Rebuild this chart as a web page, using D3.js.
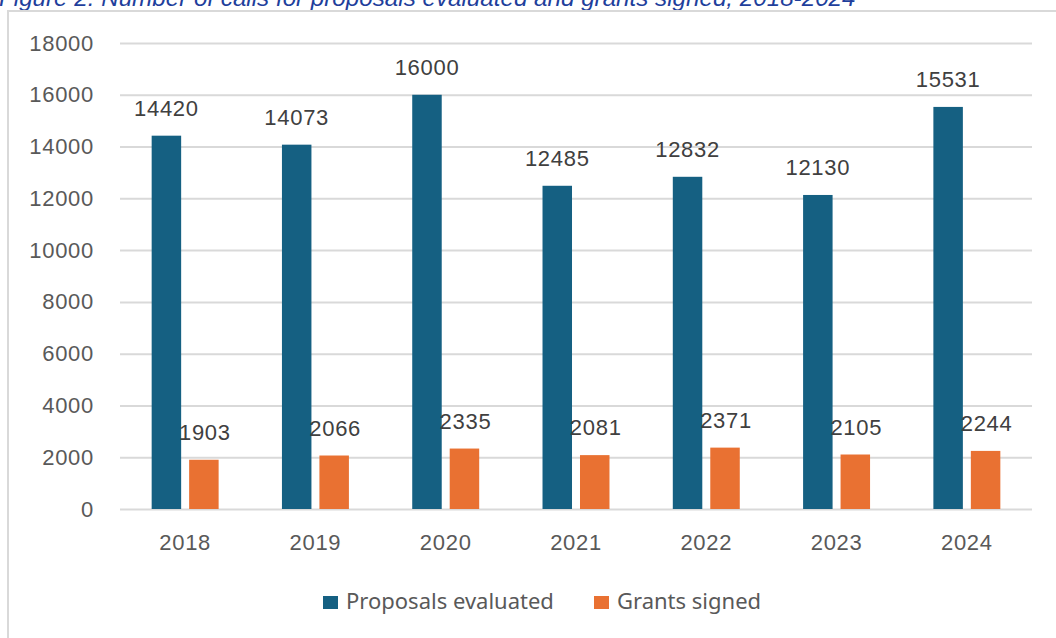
<!DOCTYPE html>
<html>
<head>
<meta charset="utf-8">
<script src="https://cdn.jsdelivr.net/npm/d3@7"></script>
<style>
  html, body { margin: 0; padding: 0; background: #fff; overflow: hidden; }
  svg { display: block; }
</style>
</head>
<body>
<svg id="chart"></svg>
<script>
// data
const years = ["2018", "2019", "2020", "2021", "2022", "2023", "2024"];
const seriesNames = ["Proposals evaluated", "Grants signed"];
const proposals = [14420, 14073, 16000, 12485, 12832, 12130, 15531];
const grants = [1903, 2066, 2335, 2081, 2371, 2105, 2244];
const yTicks = [0, 2000, 4000, 6000, 8000, 10000, 12000, 14000, 16000, 18000];
const colors = ["#156082", "#E97132"];
const title = "Figure 2: Number of calls for proposals evaluated and grants signed, 2018-2024";

const W = 1056, H = 638;
const margin = {top: 43, right: 24, bottom: 129, left: 120};
const width = W - margin.left - margin.right;
const height = H - margin.top - margin.bottom;

const svg = d3.select("#chart").attr("width", W).attr("height", H);

// caption (cut off at the top like the source)
svg.append("text")
  .attr("x", -1).attr("y", 6)
  .attr("font-family", "Liberation Sans, Arial, sans-serif")
  .attr("font-style", "italic")
  .attr("font-size", "24.2px")
  .attr("fill", "#1f3f9c")
  .text(title);

// chart frame
svg.append("rect")
  .attr("x", 8).attr("y", 11)
  .attr("width", W + 10).attr("height", H + 10)
  .attr("fill", "none")
  .attr("stroke", "#d9d9d9")
  .attr("stroke-width", 2);

const g = svg.append("g").attr("transform", `translate(${margin.left},${margin.top})`);

const y = d3.scaleLinear().domain([0, 18000]).range([height, 0]);
const x0 = d3.scaleBand().domain(years).range([0, width])
  .paddingInner(0.486).paddingOuter(0.243);
const x1 = d3.scaleBand().domain(seriesNames).range([0, x0.bandwidth()]).paddingInner(0.213);

// gridlines
g.append("g")
  .call(d3.axisLeft(y).tickValues(yTicks).tickSize(-width).tickFormat(""))
  .call(s => s.select(".domain").remove())
  .call(s => s.selectAll("line").attr("stroke", "#d9d9d9").attr("stroke-width", 2));

// y labels
g.append("g")
  .call(d3.axisLeft(y).tickValues(yTicks).tickSize(0).tickPadding(26).tickFormat(d3.format("d")))
  .call(s => s.select(".domain").remove())
  .call(s => s.selectAll("text")
    .attr("font-family", "Liberation Sans, Arial, sans-serif")
    .attr("font-size", "22px")
    .attr("letter-spacing", "0.7px")
    .attr("fill", "#595959"));

// x labels
g.append("g")
  .attr("transform", `translate(0,${height})`)
  .call(d3.axisBottom(x0).tickSize(0).tickPadding(25))
  .call(s => s.select(".domain").remove())
  .call(s => s.selectAll("text")
    .attr("font-family", "Liberation Sans, Arial, sans-serif")
    .attr("font-size", "22px")
    .attr("letter-spacing", "0.7px")
    .attr("fill", "#595959"));

const rows = years.map((yr, i) => ({year: yr, values: [proposals[i], grants[i]]}));

const groups = g.selectAll(".grp").data(rows).join("g")
  .attr("class", "grp")
  .attr("transform", d => `translate(${x0(d.year)},0)`);

groups.selectAll("rect")
  .data(d => d.values.map((v, k) => ({k, v})))
  .join("rect")
  .attr("x", d => x1(seriesNames[d.k]))
  .attr("y", d => y(d.v))
  .attr("width", x1.bandwidth())
  .attr("height", d => height - y(d.v))
  .attr("fill", d => colors[d.k]);

groups.selectAll("text.val")
  .data(d => d.values.map((v, k) => ({k, v})))
  .join("text")
  .attr("class", "val")
  .attr("x", d => x1(seriesNames[d.k]) + x1.bandwidth() / 2 + (d.k ? 1 : 0))
  .attr("y", d => y(d.v) - 20)
  .attr("text-anchor", "middle")
  .attr("font-family", "Liberation Sans, Arial, sans-serif")
  .attr("font-size", "22px")
  .attr("letter-spacing", "0.7px")
  .attr("fill", "#404040")
  .text(d => d.v);

// legend
const legend = svg.append("g").attr("transform", "translate(323,609)");
const legX = [0, 271];
seriesNames.forEach((name, i) => {
  const lg = legend.append("g").attr("transform", `translate(${legX[i]},0)`);
  lg.append("rect").attr("x", 0).attr("y", -13).attr("width", 15).attr("height", 13).attr("fill", colors[i]);
  lg.append("text")
    .attr("x", 23).attr("y", 0)
    .attr("font-family", "Noto Sans, Open Sans, sans-serif")
    .attr("font-size", "22px")
    .attr("fill", "#595959")
    .text(name);
});
</script>
</body>
</html>
